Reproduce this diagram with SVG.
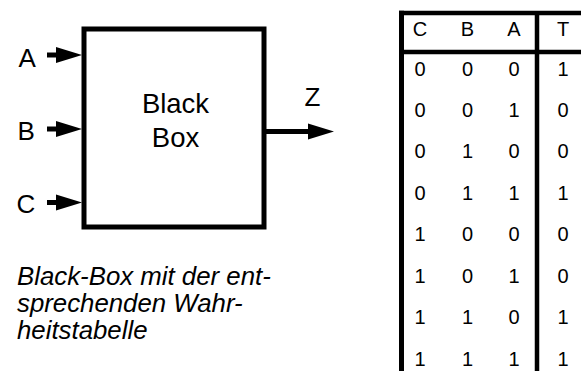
<svg xmlns="http://www.w3.org/2000/svg" width="581" height="371" viewBox="0 0 581 371">
  <style>
    .lbl { font-family: "Liberation Sans", Arial, sans-serif; font-size: 26px; fill: #000; }
    .big { font-size: 27.5px; text-anchor: middle; }
    .cap { font-family: "Liberation Sans", Arial, sans-serif; font-size: 25.8px; font-style: italic; fill: #000; }
    .cell { font-family: "Liberation Sans", Arial, sans-serif; font-size: 20px; fill: #000; text-anchor: middle; }
    .wire { stroke: #000; stroke-width: 5; fill: none; }
    .rule { stroke: #000; stroke-width: 4.5; fill: none; }
  </style>
  <defs>
    <!-- arrowhead with its tip at the origin, pointing right -->
    <path id="head" d="M-26,-8 L0,0 L-26,8 Z" fill="#000"/>
  </defs>
  <rect width="581" height="371" fill="#fff"/>

  <!-- the black box -->
  <g id="blackbox">
    <rect x="84" y="29" width="180" height="198" fill="#fff" stroke="#000" stroke-width="5"/>
    <text class="lbl big" x="175.5" y="113">Black</text>
    <text class="lbl big" x="175.5" y="146.5">Box</text>
  </g>

  <!-- input / output labels -->
  <g id="in-A"><text class="lbl" x="18.5" y="66.5">A</text></g>
  <g id="in-B"><text class="lbl" x="17.5" y="139.5">B</text></g>
  <g id="in-C"><text class="lbl" x="16.5" y="212.5">C</text></g>
  <g id="out-Z"><text class="lbl" x="304.5" y="106">Z</text></g>

  <!-- signal arrows -->
  <g id="connectors">
    <line class="wire" x1="47" y1="55" x2="60" y2="55"/>
    <use href="#head" transform="translate(82,55)"/>
    <line class="wire" x1="47" y1="129" x2="60" y2="129"/>
    <use href="#head" transform="translate(82,129)"/>
    <line class="wire" x1="47" y1="202.5" x2="60" y2="202.5"/>
    <use href="#head" transform="translate(82,202.5)"/>
    <line class="wire" x1="264" y1="131.5" x2="312" y2="131.5"/>
    <use href="#head" transform="translate(334,131.5)"/>
  </g>

  <!-- caption -->
  <g id="caption">
    <text class="cap" x="17" y="285">Black-Box mit der ent-</text>
    <text class="cap" x="17" y="312">sprechenden Wahr-</text>
    <text class="cap" x="17" y="339">heitstabelle</text>
  </g>

  <!-- truth table -->
  <g id="truth-table">
    <line class="rule" x1="399" y1="13" x2="581" y2="13"/>
    <line class="rule" x1="399" y1="52" x2="581" y2="52"/>
    <line class="wire" x1="401.5" y1="10.8" x2="401.5" y2="371"/>
    <line class="rule" x1="537" y1="13" x2="537" y2="371"/>

    <g id="table-head">
      <text class="cell" x="420" y="35.5">C</text>
      <text class="cell" x="467.5" y="35.5">B</text>
      <text class="cell" x="514" y="35.5">A</text>
      <text class="cell" x="563" y="35.5">T</text>
    </g>
    <g id="table-rows">
      <text class="cell" x="420" y="75.5">0</text><text class="cell" x="467.5" y="75.5">0</text><text class="cell" x="514" y="75.5">0</text><text class="cell" x="563" y="75.5">1</text>
      <text class="cell" x="420" y="116.9">0</text><text class="cell" x="467.5" y="116.9">0</text><text class="cell" x="514" y="116.9">1</text><text class="cell" x="563" y="116.9">0</text>
      <text class="cell" x="420" y="158.4">0</text><text class="cell" x="467.5" y="158.4">1</text><text class="cell" x="514" y="158.4">0</text><text class="cell" x="563" y="158.4">0</text>
      <text class="cell" x="420" y="199.8">0</text><text class="cell" x="467.5" y="199.8">1</text><text class="cell" x="514" y="199.8">1</text><text class="cell" x="563" y="199.8">1</text>
      <text class="cell" x="420" y="241.2">1</text><text class="cell" x="467.5" y="241.2">0</text><text class="cell" x="514" y="241.2">0</text><text class="cell" x="563" y="241.2">0</text>
      <text class="cell" x="420" y="282.6">1</text><text class="cell" x="467.5" y="282.6">0</text><text class="cell" x="514" y="282.6">1</text><text class="cell" x="563" y="282.6">0</text>
      <text class="cell" x="420" y="324.1">1</text><text class="cell" x="467.5" y="324.1">1</text><text class="cell" x="514" y="324.1">0</text><text class="cell" x="563" y="324.1">1</text>
      <text class="cell" x="420" y="365.5">1</text><text class="cell" x="467.5" y="365.5">1</text><text class="cell" x="514" y="365.5">1</text><text class="cell" x="563" y="365.5">1</text>
    </g>
  </g>
</svg>
